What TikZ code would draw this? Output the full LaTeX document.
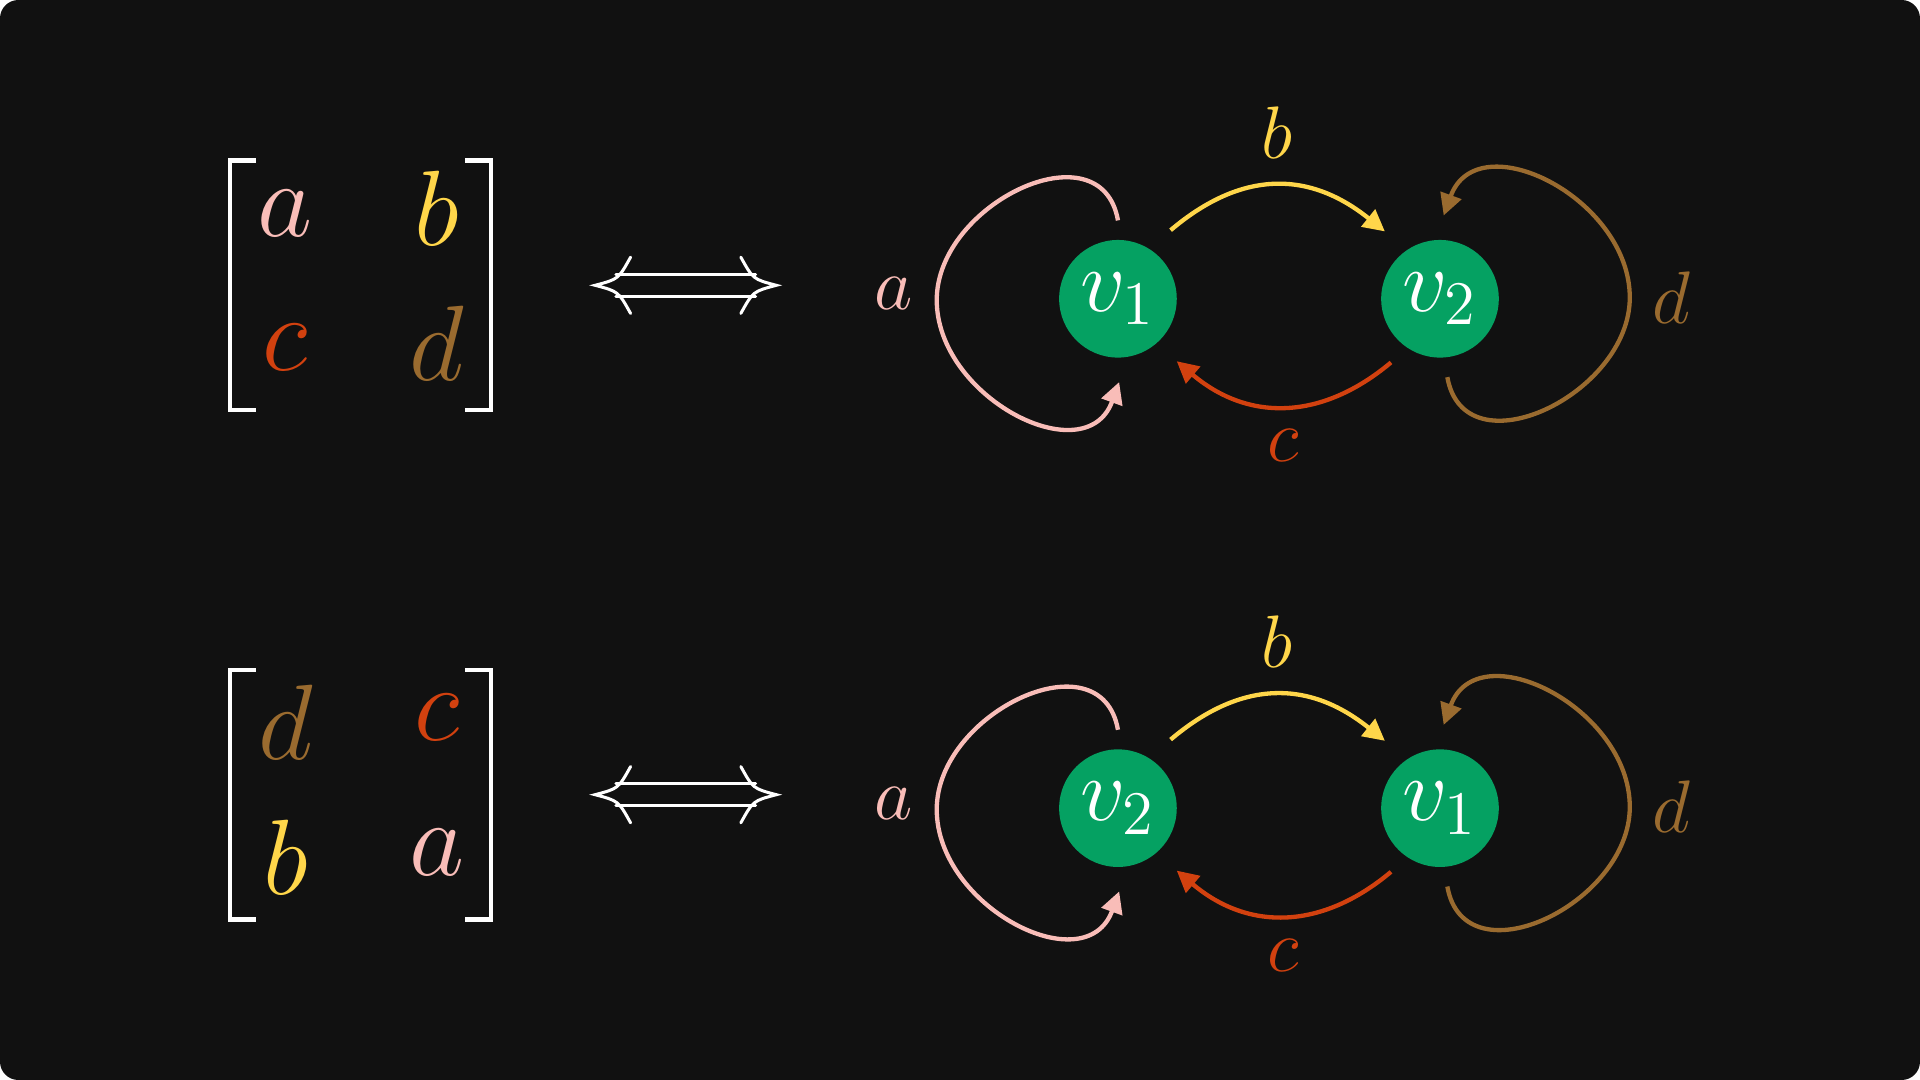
\documentclass[tikz,border=0pt]{standalone}
\usetikzlibrary{arrows.meta}
\definecolor{bg}{HTML}{111111}
\definecolor{vg}{HTML}{05A162}
\definecolor{ca}{HTML}{F9BDB8}
\definecolor{cb}{HTML}{FFD64A}
\definecolor{cc}{HTML}{D2410F}
\definecolor{cd}{HTML}{9A6B2F}
\tikzset{
  vert/.style={circle,fill=vg,minimum size=0.96cm,inner sep=0pt,text=white,font=\fontsize{20}{24}\selectfont},
  ent/.style={font=\fontsize{24}{28}\selectfont,inner sep=0pt},
  lab/.style={font=\fontsize{18}{22}\selectfont,inner sep=0pt},
  edge/.style={line width=1pt,-{Triangle[length=5pt,width=5pt]}},
  brk/.style={white,line width=1pt},
  dbl/.style={white,line width=0.7pt,line cap=round}
}
\begin{document}
\begin{tikzpicture}[x=0.01cm,y=-0.01cm]
\useasboundingbox (0,0) rectangle (1568,882);
\fill[white] (0,0) rectangle (1568,882);
\fill[bg,rounded corners=0.15cm] (0,0) rectangle (1568,882);
\foreach \oy/\pa/\pb/\pc/\pd/\ea/\eb/\ec/\ed/\la/\lb in {0/a/b/c/d/ca/cb/cc/cd/1/2, 416/d/c/b/a/cd/cc/cb/ca/2/1}{
 \begin{scope}[yshift=-\oy*0.01cm]
  % matrix
  \draw[brk] (209,131) -- (188,131) -- (188,335) -- (209,335);
  \draw[brk] (380,131) -- (401,131) -- (401,335) -- (380,335);
  \node[ent,text=\ea] (m1\oy) at (233,174) {$\pa$};
  \node[ent,text=\eb] (m2\oy) at (357,170) {$\pb$};
  \node[ent,text=\ec] (m3\oy) at (233,284) {$\pc$};
  \node[ent,text=\ed] (m4\oy) at (357,280) {$\pd$};
  % iff
  \draw[dbl] (503,224) -- (617,224) (503,242) -- (617,242);
  \draw[dbl] (515,210) .. controls (505,228) .. (486,233) .. controls (505,238) .. (515,256);
  \draw[dbl] (605,210) .. controls (615,228) .. (634,233) .. controls (615,238) .. (605,256);
  % graph
  \node[vert] (va\oy) at (913,244) {$v_\la$};
  \node[vert] (vb\oy) at (1176,244) {$v_\lb$};
  \coordinate (s1\oy) at (913,180);
  \coordinate (e1\oy) at (914,312);
  \draw[edge,ca] (s1\oy) to[out=100,in=90,looseness=1.25] (765,245) to[out=-90,in=-110,looseness=1.25] (e1\oy);
  \coordinate (s2\oy) at (956,188);
  \coordinate (e2\oy) at (1131,189);
  \draw[edge,cb] (s2\oy) .. controls (1015,138) and (1070,140) .. (e2\oy);
  \coordinate (s3\oy) at (1136,296);
  \coordinate (e3\oy) at (961,295);
  \draw[edge,cc] (s3\oy) .. controls (1080,343) and (1020,345) .. (e3\oy);
  \coordinate (s4\oy) at (1182,308);
  \coordinate (e4\oy) at (1179,176);
  \draw[edge,cd] (s4\oy) to[out=-80,in=-90,looseness=1.25] (1331,243) to[out=90,in=70,looseness=1.25] (e4\oy);
  \node[lab,text=ca] (la\oy) at (730,240) {$a$};
  \node[lab,text=cb] (lb\oy) at (1043,108) {$b$};
  \node[lab,text=cc] (lc\oy) at (1048,364) {$c$};
  \node[lab,text=cd] (ld\oy) at (1365,243) {$d$};
 \end{scope}
}
\end{tikzpicture}
\end{document}
